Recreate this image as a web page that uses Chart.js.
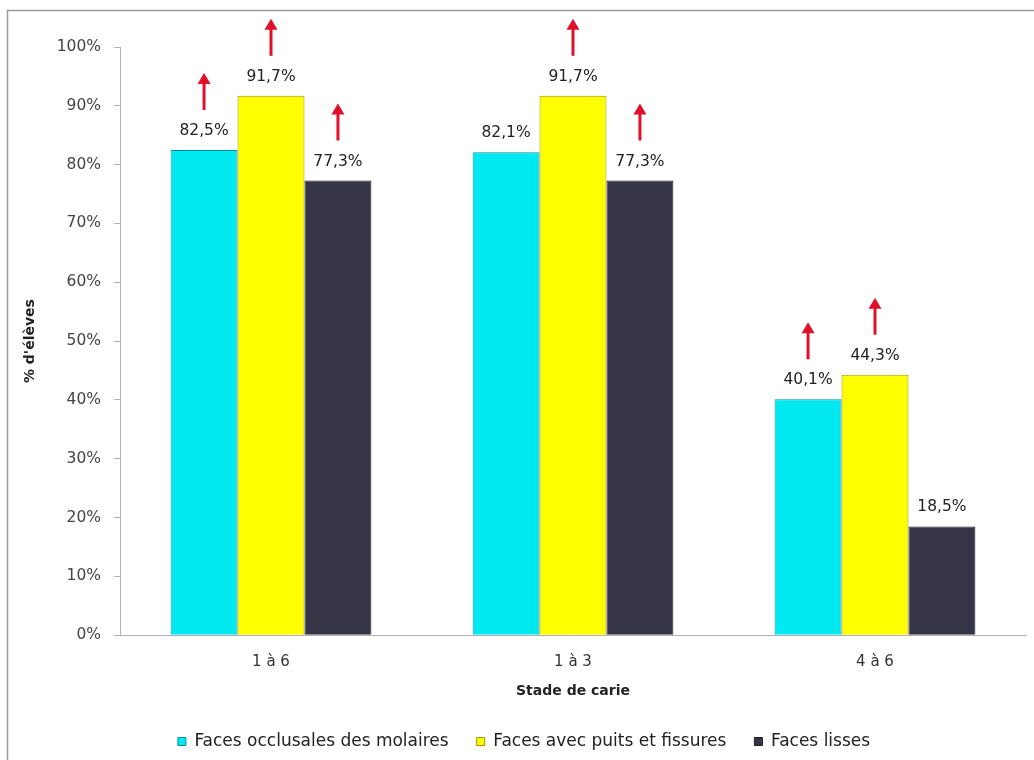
<!DOCTYPE html>
<html><head><meta charset="utf-8">
<script src="https://cdn.jsdelivr.net/npm/chart.js@4.4.1/dist/chart.umd.min.js"></script>
<style>html,body{margin:0;padding:0;background:#fff}#wrap{width:1034px;height:760px;position:relative}</style>
</head><body><div id="wrap"><canvas id="c" width="1034" height="760"></canvas></div>
<script>
const categories = ["1 à 6", "1 à 3", "4 à 6"];
const seriesNames = ["Faces occlusales des molaires", "Faces avec puits et fissures", "Faces lisses"];
const occlusales = [82.5, 82.1, 40.1];
const puits = [91.7, 91.7, 44.3];
const lisses = [77.3, 77.3, 18.5];
const arrowsOcclusales = [true, false, true];
const arrowsPuits = [true, true, true];
const arrowsLisses = [true, true, false];
const yTicks = [0, 10, 20, 30, 40, 50, 60, 70, 80, 90, 100];
const colors = ["#00E8F0", "#FFFF00", "#363447"];
const borders = ["#078F9C", "#9C9600", "#1E1C28"];
const FONT = "'DejaVu Sans', sans-serif";

const arrowFlags = [arrowsOcclusales, arrowsPuits, arrowsLisses];

const labelsPlugin = {
  id: 'labels',
  afterDatasetsDraw(chart) {
    const ctx = chart.ctx;
    ctx.save();
    chart.data.datasets.forEach((ds, di) => {
      const meta = chart.getDatasetMeta(di);
      meta.data.forEach((bar, i) => {
        const v = ds.data[i];
        ctx.font = "15.5px " + FONT;
        ctx.fillStyle = "#222";
        ctx.textAlign = "center";
        ctx.textBaseline = "middle";
        ctx.fillText(v.toFixed(1).replace('.', ',') + '%', bar.x, bar.y - 19);
        if (arrowFlags[di][i]) {
          const x = bar.x, y1 = bar.y - 40, y2 = bar.y - 77;
          ctx.strokeStyle = "#E0102A";
          ctx.fillStyle = "#E0102A";
          ctx.lineWidth = 3;
          ctx.beginPath(); ctx.moveTo(x, y1); ctx.lineTo(x, y2 + 8); ctx.stroke();
          ctx.beginPath(); ctx.moveTo(x, y2); ctx.lineTo(x - 6.5, y2 + 11); ctx.lineTo(x + 6.5, y2 + 11); ctx.closePath(); ctx.fill();
        }
      });
    });
    ctx.restore();
  }
};

const framePlugin = {
  id: 'frame',
  beforeDraw(chart) {
    const ctx = chart.ctx;
    ctx.save();
    ctx.fillStyle = '#fff';
    ctx.fillRect(0, 0, chart.width, chart.height);
    ctx.strokeStyle = '#9a9a9a';
    ctx.lineWidth = 1.5;
    ctx.beginPath();
    ctx.moveTo(7.5, 760); ctx.lineTo(7.5, 10.5); ctx.lineTo(1034, 10.5);
    ctx.stroke();
    ctx.restore();
  }
};

new Chart(document.getElementById('c'), {
  type: 'bar',
  data: {
    labels: categories,
    datasets: [
      { label: seriesNames[0], data: occlusales, backgroundColor: colors[0], borderColor: borders[0], borderWidth: 1 },
      { label: seriesNames[1], data: puits, backgroundColor: colors[1], borderColor: borders[1], borderWidth: 1 },
      { label: seriesNames[2], data: lisses, backgroundColor: colors[2], borderColor: borders[2], borderWidth: 1 }
    ]
  },
  options: {
    responsive: false,
    animation: false,
    layout: { padding: { left: 22, right: 8, top: 47, bottom: 0 } },
    datasets: { bar: { categoryPercentage: 0.665, barPercentage: 1.0 } },
    plugins: {
      legend: {
        position: 'bottom',
        labels: { font: { family: FONT, size: 17 }, color: '#222', boxWidth: 8, boxHeight: 8, padding: 28 }
      },
      tooltip: { enabled: false }
    },
    scales: {
      x: {
        grid: { display: false, drawTicks: false },
        border: { color: '#b0b0b0', width: 1 },
        ticks: { font: { family: FONT, size: 15 }, color: '#333', padding: 18 },
        title: { display: true, text: 'Stade de carie', font: { family: FONT, size: 14, weight: 'bold' }, color: '#222', padding: { top: -6, bottom: 5 } }
      },
      y: {
        min: 0, max: 100,
        afterBuildTicks(scale) { scale.ticks = yTicks.map(v => ({ value: v })); },
        afterFit(scale) { scale.width = 98; },
        grid: { drawOnChartArea: false, tickLength: 6, color: '#b0b0b0' },
        border: { color: '#b0b0b0', width: 1 },
        ticks: { font: { family: FONT, size: 15.5 }, color: '#444', padding: 13, callback: v => v + '%' },
        title: { display: true, text: "% d'élèves", font: { family: FONT, size: 14, weight: 'bold' }, color: '#222', padding: 0 }
      }
    }
  },
  plugins: [framePlugin, labelsPlugin]
});
</script></body></html>
